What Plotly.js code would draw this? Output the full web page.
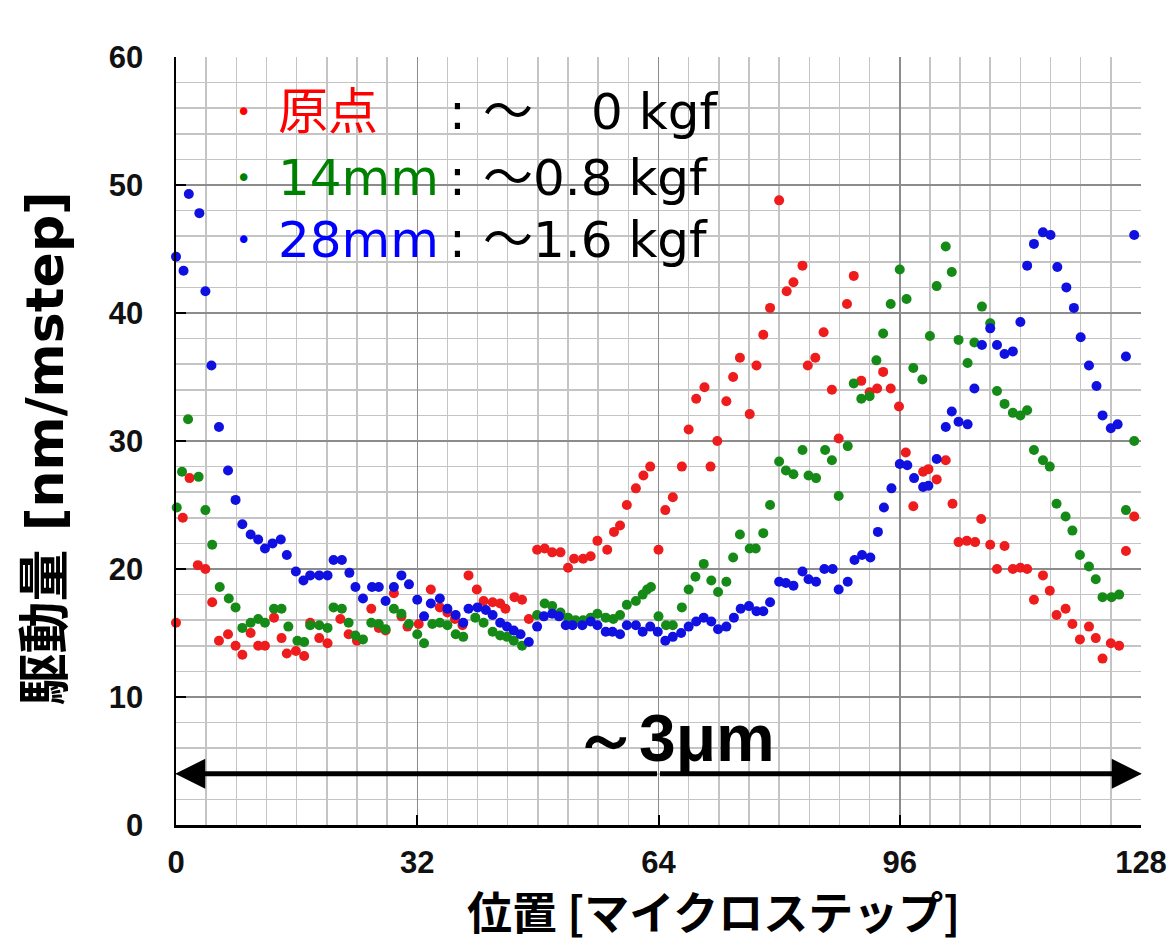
<!DOCTYPE html>
<html>
<head>
<meta charset="utf-8">
<script src="https://cdn.plot.ly/plotly-3.0.1.min.js"></script>
<style>html,body{margin:0;padding:0;background:#fff;}#chart{width:1175px;height:942px;}</style>
</head>
<body>
<div id="chart"></div>
<script>
// ---- data (x = position [µstep], y = drive amount [nm/mstep]) ----
var seriesNames = ["原点", "14mm", "28mm"];
var seriesLoads = ["0 kgf", "～0.8 kgf", "～1.6 kgf"];
var xTickVals = [0, 32, 64, 96, 128];
var yTickVals = [0, 10, 20, 30, 40, 50, 60];

var redPoints = [
[0,15.8],[0.9,24.0],[1.8,27.1],[2.9,20.3],[3.9,20.0],[4.8,17.4],[5.7,14.4],[6.9,14.9],[7.9,14.0],[8.8,13.3],
[9.9,15.0],[10.9,14.0],[11.8,14.0],[13,16.2],[14,14.6],[14.7,13.4],[15.9,13.6],[17,13.2],[17.8,15.8],[19,14.6],
[20.1,14.2],[21.8,16.1],[22.9,14.9],[24,14.4],[25.9,16.9],[26.9,15.4],[27.8,15.2],[28.9,18.1],[29.9,16.3],[30.7,15.5],
[32.2,15.7],[33.8,18.4],[35,17.0],[36,16.6],[37,16.1],[38,15.6],[38.8,19.5],[39.9,18.4],[40.8,17.5],[42,17.4],
[43,17.3],[43.7,16.9],[44.9,17.8],[45.9,17.6],[46.8,16.1],[47.9,21.5],[48.9,21.6],[49.9,21.3],[51,21.3],[52,20.1],
[52.8,20.8],[54,20.8],[55,21.0],[55.9,22.2],[57.2,21.5],[58.1,22.9],[58.9,23.4],[59.8,25.0],[61,26.3],[62,27.3],
[62.9,28.0],[64,21.5],[64.9,24.6],[65.9,25.6],[67.1,28.0],[68,30.9],[69,33.3],[70.1,34.2],[70.9,28.0],[71.8,30.0],
[73,33.1],[73.9,35.0],[74.8,36.5],[76.1,32.1],[77,35.9],[77.9,38.3],[78.8,40.4],[80,48.8],[81,41.7],[81.9,42.4],
[83.1,43.7],[83.8,35.9],[84.8,36.5],[85.9,38.5],[87,34.0],[87.9,30.2],[89,40.7],[89.9,42.9],[90.9,34.7],[92,33.8],
[93,34.1],[93.8,35.4],[94.8,34.1],[95.9,32.7],[96.8,29.1],[97.8,24.9],[99.1,27.6],[99.8,27.8],[100.9,27.0],[102.1,28.5],
[103,25.1],[103.8,22.1],[104.9,22.2],[106,22.1],[106.8,23.9],[108,21.9],[108.9,20.0],[109.9,21.8],[111,20.0],[112,20.1],
[112.9,20.0],[113.8,17.6],[115,19.5],[115.9,18.3],[116.8,16.4],[118,16.9],[118.9,15.7],[119.9,14.5],[121.1,15.5],[122,14.6],
[122.9,13.0],[124,14.2],[125.1,14.0],[126,21.4],[127.1,24.1]
];

var greenPoints = [
[0.1,24.8],[0.8,27.6],[1.6,31.7],[3,27.2],[3.9,24.6],[4.8,21.9],[5.8,18.6],[7,17.7],[7.9,17.0],[8.8,15.4],
[9.9,15.8],[10.9,16.1],[11.8,15.8],[13,16.9],[14,16.9],[14.9,15.5],[16.1,14.4],[17,14.3],[17.8,15.6],[19,15.6],
[20.1,15.4],[20.9,17.0],[22,16.9],[22.9,15.8],[23.8,14.8],[24.8,14.5],[25.9,15.8],[26.9,15.7],[27.8,15.3],[28.9,16.9],
[29.9,16.5],[30.9,15.7],[32,14.9],[32.9,14.2],[34,15.7],[35,15.8],[36,15.6],[37.1,14.9],[38.1,14.7],[39.7,16.2],
[40.8,15.8],[42,15.1],[43,14.8],[43.9,14.7],[44.8,14.4],[45.9,14.0],[47.9,16.4],[48.9,17.3],[49.9,17.1],[51,16.6],
[52,16.2],[53,16.0],[54,16.0],[55,16.2],[55.9,16.5],[57,16.2],[58,16.1],[58.9,16.4],[59.8,17.2],[61,17.5],
[61.9,18.0],[62.5,18.4],[63,18.6],[64,16.3],[65,15.6],[65.9,15.6],[67.1,17.0],[68,18.4],[68.9,19.4],[70,20.4],
[71,19.1],[71.9,18.2],[73,19.0],[73.9,20.9],[74.8,22.7],[76.1,21.6],[76.9,21.6],[77.9,22.8],[78.8,25.0],[80,28.4],
[80.9,27.7],[81.9,27.4],[83.1,29.3],[83.9,27.3],[84.9,27.1],[86.1,29.3],[87,28.5],[87.9,25.7],[89.1,29.6],[89.9,34.5],
[90.9,33.3],[92,33.5],[92.9,36.3],[93.8,38.4],[94.8,40.7],[96,43.4],[96.9,41.1],[97.8,35.7],[99,34.8],[100,38.2],
[100.9,42.1],[102.1,45.2],[102.9,43.2],[103.8,37.9],[105,36.1],[105.9,37.7],[106.9,40.5],[108,39.2],[108.9,33.9],[109.9,32.9],
[111,32.2],[112,32.0],[112.9,32.4],[113.8,29.3],[115,28.5],[115.9,28.0],[116.8,25.1],[118,24.1],[118.9,23.0],[119.9,21.1],
[121.1,20.2],[122,19.2],[122.9,17.8],[124.1,17.8],[125.1,18.0],[126,24.6],[127.1,30.0]
];

var bluePoints = [
[0,44.4],[1,43.3],[1.7,49.3],[3.1,47.8],[3.9,41.7],[4.7,35.9],[5.7,31.1],[6.9,27.7],[7.9,25.4],[8.8,23.5],
[9.9,22.7],[10.9,22.3],[11.8,21.6],[12.8,22.0],[13.9,22.3],[14.7,21.1],[15.9,19.8],[16.9,19.1],[17.8,19.5],[19,19.5],
[20.1,19.5],[20.9,20.7],[22,20.7],[23,19.7],[23.8,18.6],[24.8,17.7],[26,18.6],[26.9,18.6],[27.8,17.5],[28.9,18.6],
[29.9,19.5],[30.9,18.8],[32,17.6],[32.9,16.3],[33.8,17.3],[35,17.7],[36,16.9],[37.1,16.4],[38.1,15.8],[38.8,16.9],
[40,17.0],[41.1,16.8],[42,16.4],[43,15.8],[43.9,15.5],[44.8,15.2],[45.7,14.9],[46.8,14.3],[47.9,15.5],[48.8,16.3],
[49.9,16.5],[50.8,16.3],[51.7,15.6],[52.6,15.6],[53.9,15.6],[55,15.9],[55.9,15.6],[57,15.1],[57.9,15.1],[58.9,14.9],
[59.8,15.6],[61,15.6],[61.9,15.1],[62.9,15.5],[63.9,15.1],[64.9,14.4],[65.9,14.7],[67,15.0],[68,15.5],[69,15.9],
[70,16.2],[71,15.9],[71.9,15.3],[73,15.5],[74,16.2],[74.9,16.9],[76,17.1],[77,16.7],[77.9,16.7],[78.8,17.4],
[80,19.0],[80.9,18.9],[81.9,18.7],[83.1,19.8],[83.9,19.2],[84.9,19.0],[86,20.0],[87.1,20.0],[87.9,18.4],[89.1,19.0],
[90,20.7],[91,21.1],[92.1,20.9],[93.1,22.9],[93.9,24.8],[94.9,26.3],[96,28.2],[97,28.1],[97.9,27.1],[99.1,26.4],
[99.8,26.5],[100.9,28.6],[102.1,31.1],[102.9,32.3],[103.8,31.5],[105,31.3],[105.9,34.1],[106.9,37.5],[108,38.8],[108.9,37.5],
[109.9,36.8],[111,37.0],[112,39.3],[112.9,43.7],[113.8,45.4],[115,46.3],[116,46.1],[116.9,43.6],[118.1,42.0],[119.1,40.4],
[120,38.1],[121.1,35.9],[122.1,34.3],[122.9,32.0],[124,31.0],[124.9,31.3],[126,36.6],[127.1,46.1]
];

// ---- styling ----
var markerColors = ["#ee1c1c", "#168a16", "#1010e0"];
var labelColors = ["#ff0000", "#008000", "#0000ff"];
var allSeries = [redPoints, greenPoints, bluePoints];

var traces = allSeries.map(function (pts, i) {
  return {
    type: "scatter",
    mode: "markers",
    name: seriesNames[i],
    x: pts.map(function (p) { return p[0]; }),
    y: pts.map(function (p) { return p[1]; }),
    marker: { size: 10, color: markerColors[i], line: { width: 0 } },
    showlegend: false,
    cliponaxis: false
  };
});

var tickFont = { family: "Liberation Sans, Arial, sans-serif", size: 31, color: "#111", weight: "bold" };
var latinCjk = "DejaVu Sans, Noto Sans CJK JP, sans-serif";

var rowY = [55.7, 50.55, 45.7];
var annotations = [];
for (var i = 0; i < 3; i++) {
  annotations.push({ x: 8.9, y: rowY[i], xref: "x", yref: "y", text: "•", showarrow: false,
    xanchor: "center", yanchor: "middle", font: { family: latinCjk, size: 26, color: labelColors[i] } });
  annotations.push({ x: 13.3, y: rowY[i], xref: "x", yref: "y", text: seriesNames[i], showarrow: false,
    xanchor: "left", yanchor: "middle", font: { family: latinCjk, size: 50, color: labelColors[i] } });
  annotations.push({ x: 35.9, y: rowY[i], xref: "x", yref: "y", text: ":", showarrow: false,
    xanchor: "left", yanchor: "middle", font: { family: latinCjk, size: 50, color: "#000" } });
}
// load texts
annotations.push({ x: 40.4, y: rowY[0], xref: "x", yref: "y", text: "～", showarrow: false,
  xanchor: "left", yanchor: "middle", font: { family: latinCjk, size: 50, color: "#000" } });
annotations.push({ x: 72.2, y: rowY[0], xref: "x", yref: "y", text: seriesLoads[0], showarrow: false,
  xanchor: "right", yanchor: "middle", font: { family: latinCjk, size: 50, color: "#000" } });
for (var j = 1; j < 3; j++) {
  annotations.push({ x: 40.4, y: rowY[j], xref: "x", yref: "y", text: seriesLoads[j], showarrow: false,
    xanchor: "left", yanchor: "middle", font: { family: latinCjk, size: 50, color: "#000" } });
}
// span annotation
annotations.push({ x: 66.0, y: 6.8, xref: "x", yref: "y", text: "<b>～3μm</b>", showarrow: false,
  xanchor: "center", yanchor: "middle", font: { family: "Liberation Sans, Arial, sans-serif", size: 66, color: "#000" } });
// double-headed arrow: two halves from the centre outwards
annotations.push({ x: 128.1, y: 4.0, ax: 64, ay: 4.0, xref: "x", yref: "y", axref: "x", ayref: "y",
  text: " ", showarrow: true, arrowhead: 2, arrowwidth: 5, arrowsize: 1.2, arrowcolor: "#000", standoff: 0,
  font: { size: 1 } });
annotations.push({ x: -0.1, y: 4.0, ax: 64, ay: 4.0, xref: "x", yref: "y", axref: "x", ayref: "y",
  text: " ", showarrow: true, arrowhead: 2, arrowwidth: 5, arrowsize: 1.2, arrowcolor: "#000", standoff: 0,
  font: { size: 1 } });
// axis titles
annotations.push({ x: -0.136, y: 0.49, xref: "paper", yref: "paper", text: "<b>駆動量 [nm/mstep]</b>", showarrow: false,
  textangle: -90, xanchor: "center", yanchor: "middle", font: { family: latinCjk, size: 52, color: "#000" } });
annotations.push({ x: 0.5565, y: -0.111, xref: "paper", yref: "paper", text: "<b>位置 [マイクロステップ]</b>", showarrow: false,
  xanchor: "center", yanchor: "middle", font: { family: "Noto Sans CJK JP, sans-serif", size: 45, color: "#000" } });

var layout = {
  width: 1175, height: 942,
  margin: { l: 176, r: 34, t: 57, b: 117, pad: 0 },
  paper_bgcolor: "#fff", plot_bgcolor: "#fff",
  showlegend: false,
  xaxis: {
    range: [0, 128], tickvals: xTickVals, ticktext: xTickVals.map(String),
    showgrid: true, gridcolor: "#8c8c8c", gridwidth: 1.5,
    minor: { dtick: 4, tick0: 0, showgrid: true, gridcolor: "#c4c4c4", gridwidth: 1.5, ticks: "" },
    showline: true, linecolor: "#000", linewidth: 2.5,
    ticks: "inside", ticklen: 10, tickwidth: 2, tickcolor: "#000",
    tickfont: tickFont, ticklabelstandoff: 8, zeroline: false, fixedrange: true
  },
  yaxis: {
    range: [0, 60], tickvals: yTickVals, ticktext: yTickVals.map(String),
    showgrid: true, gridcolor: "#8c8c8c", gridwidth: 1.5,
    minor: { dtick: 2, tick0: 0, showgrid: true, gridcolor: "#c4c4c4", gridwidth: 1.5, ticks: "" },
    showline: true, linecolor: "#000", linewidth: 2.5,
    ticks: "inside", ticklen: 10, tickwidth: 2, tickcolor: "#000",
    tickfont: tickFont, ticklabelstandoff: 24, zeroline: false, fixedrange: true
  },
  shapes: [
    { type: "rect", xref: "x", yref: "y", x0: 6.1, x1: 75.5, y0: 43.4, y1: 58.75,
      fillcolor: "rgba(255,255,255,0.75)", line: { width: 0 }, layer: "below" }
  ],
  annotations: annotations
};

Plotly.newPlot("chart", traces, layout, { staticPlot: true, displayModeBar: false });
</script>
</body>
</html>
